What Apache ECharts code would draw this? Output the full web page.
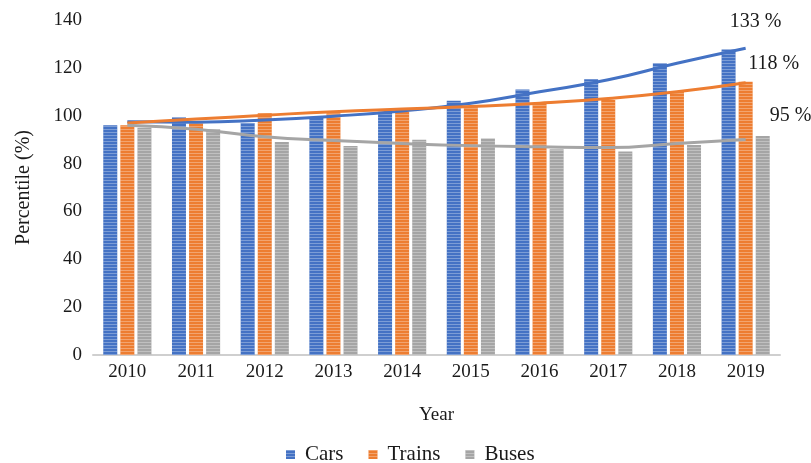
<!DOCTYPE html>
<html>
<head>
<meta charset="utf-8">
<script src="https://cdn.jsdelivr.net/npm/echarts@6/dist/echarts.min.js"></script>
<style>html,body{margin:0;padding:0;background:#fff}#c{width:811px;height:463px}</style>
</head>
<body>
<div id="c"></div>
<script>
const years = ['2010','2011','2012','2013','2014','2015','2016','2017','2018','2019'];
const cars   = [96, 99.4, 97, 99, 101.7, 106.3, 111, 115.2, 121.9, 127.7];
const trains = [96, 96.8, 101, 101, 101.8, 103.5, 105.4, 106.6, 110, 114.2];
const buses  = [95, 94.4, 89, 87.3, 90, 90.5, 86, 85, 87.8, 91.5];
const carsTrend   = [97.5, 97.3, 98.2, 99.8, 102, 105.2, 110, 115, 121.9, 128.2];
const trainsTrend = [97, 98.6, 100.2, 101.7, 102.8, 103.8, 105.2, 107.2, 110, 113.8];
const busesTrend  = [96, 94.3, 91.2, 89.6, 88.4, 87.5, 87, 86.7, 88.4, 90.1];
const endLabels = ['133 %', '118 %', '95 %'];
const yTicks = [0, 20, 40, 60, 80, 100, 120, 140];

const BLUE = '#4472C4', ORANGE = '#ED7D31', GRAY = '#A5A5A5';
const FONT = '"Liberation Serif", "Times New Roman", serif';
const decal = {symbol: 'rect', symbolSize: 1, rotation: 0, dashArrayX: [[1, 0]], dashArrayY: [1, 2], color: 'rgba(255,255,255,0.3)'};

function trendSeries(name, arr, color, label, offset) {
  return {name: name, type: 'line', smooth: true, symbol: 'none', z: 5,
          lineStyle: {color: color, width: 3}, itemStyle: {color: color},
          endLabel: {show: true, formatter: label, distance: 0, offset: offset,
                     align: 'center', verticalAlign: 'middle',
                     fontFamily: FONT, fontSize: 20, color: '#1a1a1a'},
          data: arr};
}

const chart = echarts.init(document.getElementById('c'), null, {renderer: 'canvas'});
chart.setOption({
  animation: false,
  backgroundColor: '#fff',
  grid: {left: 93, right: 31, top: 20, bottom: 108},
  legend: {
    data: ['Cars', 'Trains', 'Buses'],
    top: 439, left: 281,
    itemWidth: 9, itemHeight: 9, itemGap: 25,
    icon: 'rect',
    textStyle: {fontFamily: FONT, fontSize: 21, color: '#1a1a1a', padding: [0, 0, 0, 5]}
  },
  xAxis: {
    type: 'category', data: years,
    name: 'Year', nameLocation: 'middle', nameGap: 51,
    nameTextStyle: {fontFamily: FONT, fontSize: 19, color: '#1a1a1a'},
    axisLine: {lineStyle: {color: '#cfcfcf', width: 2}},
    axisTick: {show: false},
    axisLabel: {fontFamily: FONT, fontSize: 19, color: '#1a1a1a', margin: 8}
  },
  yAxis: {
    type: 'value', min: 0, max: 140, interval: 20,
    name: 'Percentile (%)', nameLocation: 'middle', nameGap: 59, nameRotate: 90,
    nameTextStyle: {fontFamily: FONT, fontSize: 20, color: '#1a1a1a'},
    axisLine: {show: false}, axisTick: {show: false},
    splitLine: {show: false},
    axisLabel: {fontFamily: FONT, fontSize: 19, color: '#1a1a1a', margin: 11,
                formatter: v => yTicks.includes(v) ? String(v) : ''}
  },
  series: [
    {name: 'Cars', type: 'bar', data: cars, barWidth: 14, barGap: '22%', itemStyle: {color: BLUE, decal: decal}},
    {name: 'Trains', type: 'bar', data: trains, barWidth: 14, barGap: '22%', itemStyle: {color: ORANGE, decal: decal}},
    {name: 'Buses', type: 'bar', data: buses, barWidth: 14, barGap: '22%', itemStyle: {color: GRAY, decal: decal}},
    trendSeries('Cars trend', carsTrend, BLUE, endLabels[0], [10, -26]),
    trendSeries('Trains trend', trainsTrend, ORANGE, endLabels[1], [28, -19]),
    trendSeries('Buses trend', busesTrend, GRAY, endLabels[2], [45, -24])
  ]
});
</script>
</body>
</html>
